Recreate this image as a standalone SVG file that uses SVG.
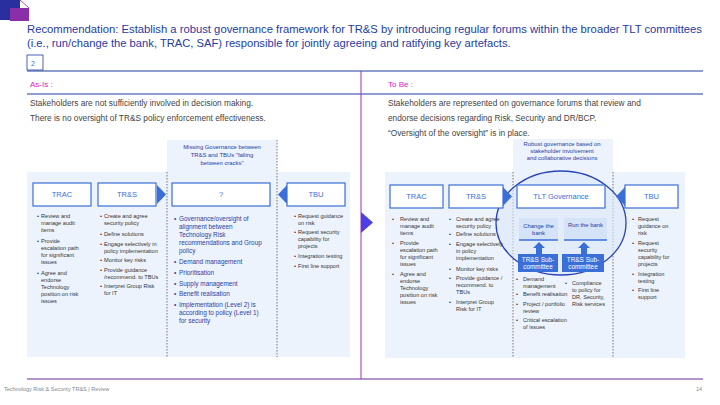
<svg xmlns="http://www.w3.org/2000/svg" width="720" height="405" viewBox="0 0 720 405">
<style>
text{font-family:"Liberation Sans",Arial,sans-serif}
.t{fill:#1f3c9e;font-size:11.2px}
.b{fill:#444;font-size:8.3px}
.h{fill:#e020c0;font-size:8px}
.s{fill:#333;font-size:5.6px}
.m{fill:#2b3f9e;font-size:6.4px}
.hd{fill:#1f3c9e;font-size:5.9px;text-anchor:middle}
.box{fill:#fff;stroke:#3a6fd8;stroke-width:1.2}
.lbl{fill:#3a6fd8;font-size:7.5px;text-anchor:middle}
.bg{fill:#edf3fc}
.dash{stroke:#555;stroke-width:0.8;stroke-dasharray:1.5,1.5;fill:none}
.wt{fill:#fff;font-size:6.4px;text-anchor:middle}
</style>
<rect width="720" height="405" fill="#fff"/>
<g id="logo"><rect x="0" y="0" width="20" height="20" fill="#2a2fa0"/><rect x="10" y="8" width="19" height="13" fill="#8a2fa8"/><line x1="20" y1="0" x2="29" y2="8" stroke="#8a2fa8" stroke-width="0.8"/></g>
<text class="t" x="27" y="33" textLength="675" lengthAdjust="spacingAndGlyphs">Recommendation: Establish a robust governance framework for TR&amp;S by introducing regular forums within the broader TLT committees</text>
<text class="t" x="27" y="47">(i.e., run/change the bank, TRAC, SAF) responsible for jointly agreeing and ratifying key artefacts.</text>
<rect x="27" y="55" width="16" height="15" fill="#fff" stroke="#1f3c9e" stroke-width="0.8"/>
<text x="31" y="66" fill="#3a6fd8" font-size="7px">2</text>
<line x1="27" y1="71" x2="703" y2="71" stroke="#1f3c9e" stroke-width="1"/>
<line x1="27" y1="94" x2="703" y2="94" stroke="#1f3c9e" stroke-width="1"/>
<line x1="27" y1="379" x2="703" y2="379" stroke="#6a2a8a" stroke-width="1"/>
<line x1="361" y1="71" x2="361" y2="379" stroke="#a030b0" stroke-width="1"/>
<polygon points="361,212 373,222.5 361,233" fill="#4a40e8"/>
<text class="h" x="30" y="87">As-Is :</text>
<text class="h" x="388" y="87">To Be :</text>
<text class="b" x="30" y="106">Stakeholders are not sufficiently involved in decision making.</text>
<text class="b" x="30" y="121">There is no oversight of TR&amp;S policy enforcement effectiveness.</text>
<text class="b" x="388" y="106">Stakeholders are represented on governance forums that review and</text>
<text class="b" x="388" y="121">endorse decisions regarding Risk, Security and DR/BCP.</text>
<text class="b" x="388" y="136">“Oversight of the oversight” is in place.</text>

<!-- left panel -->
<rect class="bg" x="27" y="172" width="323" height="185"/>
<rect class="bg" x="167" y="140" width="110" height="217"/>
<line class="dash" x1="167" y1="172" x2="167" y2="357"/>
<line class="dash" x1="277" y1="140" x2="277" y2="357"/>
<text class="hd" x="222" y="149"><tspan x="222">Missing Governance between</tspan><tspan x="222" dy="8">TR&amp;S and TBUs "falling</tspan><tspan x="222" dy="8">between cracks"</tspan></text>
<g id="trac-l"><rect class="box" x="33" y="183" width="58" height="23"/><text class="lbl" x="62" y="197">TRAC</text>
<text class="s"><tspan x="37" y="218">•</tspan><tspan x="41" y="218">Review and</tspan><tspan x="41" dy="7">manage audit</tspan><tspan x="41" dy="7">items</tspan><tspan x="37" y="243">•</tspan><tspan x="41" y="243">Provide</tspan><tspan x="41" dy="7">escalation path</tspan><tspan x="41" dy="7">for significant</tspan><tspan x="41" dy="7">issues</tspan><tspan x="37" y="275">•</tspan><tspan x="41" y="275">Agree and</tspan><tspan x="41" dy="7">endorse</tspan><tspan x="41" dy="7">Technology</tspan><tspan x="41" dy="7">position on risk</tspan><tspan x="41" dy="7">issues</tspan></text></g>
<g id="trs-l"><rect class="box" x="98" y="183" width="58" height="23"/><text class="lbl" x="127" y="197">TR&amp;S</text>
<polygon points="157,185 166,194.5 157,204" fill="#3a6fd8"/>
<text class="s"><tspan x="100" y="218">•</tspan><tspan x="104" y="218">Create and agree</tspan><tspan x="104" dy="7">security policy</tspan><tspan x="100" y="236">•</tspan><tspan x="104" y="236">Define solutions</tspan><tspan x="100" y="246">•</tspan><tspan x="104" y="246">Engage selectively in</tspan><tspan x="104" dy="7">policy implementation</tspan><tspan x="100" y="262">•</tspan><tspan x="104" y="262">Monitor key risks</tspan><tspan x="100" y="272">•</tspan><tspan x="104" y="272">Provide guidance</tspan><tspan x="104" dy="7">/recommend. to TBUs</tspan><tspan x="100" y="288">•</tspan><tspan x="104" y="288">Interpret Group Risk</tspan><tspan x="104" dy="7">for IT</tspan></text></g>
<g id="q"><rect class="box" x="172" y="183" width="98" height="23"/><text class="lbl" x="221" y="197">?</text>
<text class="m"><tspan x="174" y="221">•</tspan><tspan x="179" y="221">Governance/oversight of</tspan><tspan x="179" dy="8">alignment between</tspan><tspan x="179" dy="8">Technology Risk</tspan><tspan x="179" dy="8">recommendations and Group</tspan><tspan x="179" dy="8">policy</tspan><tspan x="174" y="264">•</tspan><tspan x="179" y="264">Demand management</tspan><tspan x="174" y="275">•</tspan><tspan x="179" y="275">Prioritisation</tspan><tspan x="174" y="286">•</tspan><tspan x="179" y="286">Supply management</tspan><tspan x="174" y="296">•</tspan><tspan x="179" y="296">Benefit realisation</tspan><tspan x="174" y="307">•</tspan><tspan x="179" y="307">Implementation (Level 2) is</tspan><tspan x="179" dy="8">according to policy (Level 1)</tspan><tspan x="179" dy="8">for security</tspan></text></g>
<g id="tbu-l"><rect class="box" x="287" y="183" width="58" height="23"/><text class="lbl" x="316" y="197">TBU</text>
<polygon points="287,185 278,194.5 287,204" fill="#3a6fd8"/>
<text class="s"><tspan x="294" y="218">•</tspan><tspan x="298" y="218">Request guidance</tspan><tspan x="298" dy="7">on risk</tspan><tspan x="294" y="234">•</tspan><tspan x="298" y="234">Request security</tspan><tspan x="298" dy="7">capability for</tspan><tspan x="298" dy="7">projects</tspan><tspan x="294" y="258">•</tspan><tspan x="298" y="258">Integration testing</tspan><tspan x="294" y="268">•</tspan><tspan x="298" y="268">First line support</tspan></text></g>

<!-- right panel -->
<rect class="bg" x="385" y="172" width="300" height="186"/>
<rect class="bg" x="513" y="139" width="100" height="219"/>
<line class="dash" x1="513" y1="172" x2="513" y2="358"/>
<line class="dash" x1="613" y1="172" x2="613" y2="358"/>
<text class="hd" x="562" y="146" font-size="5.3px"><tspan x="562">Robust governance based on</tspan><tspan x="562" dy="7">stakeholder involvement</tspan><tspan x="562" dy="7">and collaborative decisions</tspan></text>
<ellipse cx="561" cy="223" rx="65" ry="52" fill="#dce8f8" fill-opacity="0.6" stroke="#2a45b8" stroke-width="1.3"/>
<g id="trac-r"><rect class="box" x="390" y="185" width="53" height="23"/><text class="lbl" x="416.5" y="199" font-size="6px">TRAC</text>
<text class="s"><tspan x="392" y="221">•</tspan><tspan x="400" y="221">Review  and</tspan><tspan x="400" dy="7">manage audit</tspan><tspan x="400" dy="7">items</tspan><tspan x="392" y="245">•</tspan><tspan x="400" y="245">Provide</tspan><tspan x="400" dy="7">escalation path</tspan><tspan x="400" dy="7">for significant</tspan><tspan x="400" dy="7">issues</tspan><tspan x="392" y="276">•</tspan><tspan x="400" y="276">Agree and</tspan><tspan x="400" dy="7">endorse</tspan><tspan x="400" dy="7">Technology</tspan><tspan x="400" dy="7">position on risk</tspan><tspan x="400" dy="7">issues</tspan></text></g>
<g id="trs-r"><rect class="box" x="449" y="185" width="54" height="23"/><text class="lbl" x="476" y="199" font-size="6px">TR&amp;S</text>
<polygon points="503,187 512,196.5 503,206" fill="#3a6fd8"/>
<text class="s"><tspan x="449" y="221">•</tspan><tspan x="456" y="221">Create and agree</tspan><tspan x="456" dy="7">security policy</tspan><tspan x="449" y="236">•</tspan><tspan x="456" y="236">Define solutions</tspan><tspan x="449" y="246">•</tspan><tspan x="456" y="246">Engage selectively</tspan><tspan x="456" dy="7">in policy</tspan><tspan x="456" dy="7">implementation</tspan><tspan x="449" y="271">•</tspan><tspan x="456" y="271">Monitor key risks</tspan><tspan x="449" y="280">•</tspan><tspan x="456" y="280">Provide guidance /</tspan><tspan x="456" dy="7">recommend. to</tspan><tspan x="456" dy="7">TBUs</tspan><tspan x="449" y="304">•</tspan><tspan x="456" y="304">Interpret Group</tspan><tspan x="456" dy="7">Risk for IT</tspan></text></g>
<g id="tlt"><rect class="box" x="517" y="185" width="88" height="23"/><text class="lbl" x="561" y="199" font-size="6px">TLT Governance</text>
<g id="change"><rect x="519" y="218" width="39" height="22" fill="#d4e3f8"/><line x1="519" y1="240" x2="558" y2="240" stroke="#3a6fd8" stroke-width="1.5"/><text class="hd" x="538.5" y="228" fill="#2a55c8"><tspan x="538.5">Change the</tspan><tspan x="538.5" dy="7">bank</tspan></text></g>
<g id="run"><rect x="564" y="218" width="43" height="22" fill="#d4e3f8"/><line x1="564" y1="240" x2="607" y2="240" stroke="#3a6fd8" stroke-width="1.5"/><text class="hd" x="585.5" y="227" fill="#2a55c8">Run the bank</text></g>
<polygon points="539,242 545,248 542,248 542,254 536,254 536,248 533,248" fill="#3a6fd8"/>
<polygon points="584,242 590,248 587,248 587,254 581,254 581,248 578,248" fill="#3a6fd8"/>
<g id="sub1"><rect x="518" y="254" width="40" height="18" fill="#3a6fd8"/><text class="wt" x="538" y="262" font-size="5.8px"><tspan x="538">TR&amp;S Sub-</tspan><tspan x="538" dy="7">committee</tspan></text></g>
<g id="sub2"><rect x="562" y="254" width="42" height="18" fill="#3a6fd8"/><text class="wt" x="583" y="262" font-size="5.8px"><tspan x="583">TR&amp;S Sub-</tspan><tspan x="583" dy="7">committee</tspan></text></g>
<text class="s" fill="#555"><tspan x="516" y="281">•</tspan><tspan x="523" y="281">Demand</tspan><tspan x="523" dy="7">management</tspan><tspan x="516" y="296">•</tspan><tspan x="523" y="296">Benefit realisation</tspan><tspan x="516" y="306">•</tspan><tspan x="523" y="306">Project / portfolio</tspan><tspan x="523" dy="7">review</tspan><tspan x="516" y="322">•</tspan><tspan x="523" y="322">Critical escalation</tspan><tspan x="523" dy="7">of issues</tspan><tspan x="565" y="285">•</tspan><tspan x="572" y="285">Compliance</tspan><tspan x="572" dy="7">to policy for</tspan><tspan x="572" dy="7">DR, Security,</tspan><tspan x="572" dy="7">Risk services</tspan></text></g>
<g id="tbu-r"><rect class="box" x="625" y="185" width="53" height="23"/><text class="lbl" x="651.5" y="199" font-size="6px">TBU</text>
<polygon points="625,187 616,196.5 625,206" fill="#3a6fd8"/>
<text class="s"><tspan x="632" y="221">•</tspan><tspan x="638" y="221">Request</tspan><tspan x="638" dy="7">guidance on</tspan><tspan x="638" dy="7">risk</tspan><tspan x="632" y="245">•</tspan><tspan x="638" y="245">Request</tspan><tspan x="638" dy="7">security</tspan><tspan x="638" dy="7">capability for</tspan><tspan x="638" dy="7">projects</tspan><tspan x="632" y="276">•</tspan><tspan x="638" y="276">Integration</tspan><tspan x="638" dy="7">testing</tspan><tspan x="632" y="292">•</tspan><tspan x="638" y="292">First line</tspan><tspan x="638" dy="7">support</tspan></text></g>
<g id="connectors"></g>
<text x="4" y="391" fill="#888" font-size="5.5px">Technology Risk &amp; Security TR&amp;S | Review</text>
<text x="696" y="391" fill="#888" font-size="5.5px">14</text>
</svg>
